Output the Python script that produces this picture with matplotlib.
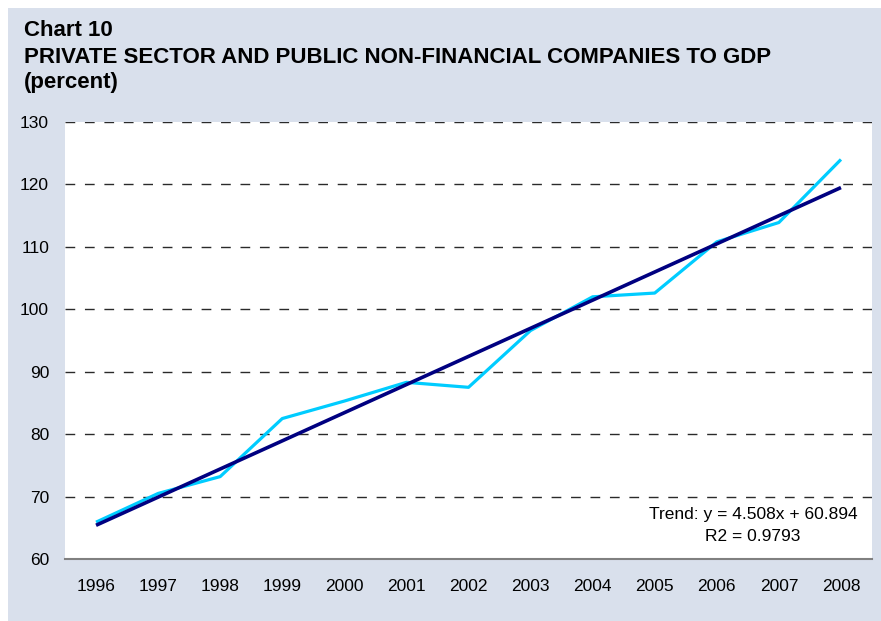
import matplotlib
matplotlib.use("Agg")
import matplotlib.pyplot as plt
from matplotlib.patches import Rectangle
import numpy as np

plt.rcParams['font.family'] = ['Liberation Sans', 'DejaVu Sans']

years = ['1996', '1997', '1998', '1999', '2000', '2001', '2002',
         '2003', '2004', '2005', '2006', '2007', '2008']
values = [65.9, 70.5, 73.2, 82.5, 85.3, 88.3, 87.5,
          96.6, 102.0, 102.6, 110.8, 113.9, 124.0]
trend_slope = 4.508
trend_intercept = 60.894
trend_r2 = 0.9793
yticks = [60, 70, 80, 90, 100, 110, 120, 130]

title_lines = ['Chart 10',
               'PRIVATE SECTOR AND PUBLIC NON-FINANCIAL COMPANIES TO GDP',
               '(percent)']

W, H = 881, 621
fig = plt.figure(figsize=(W / 100, H / 100), dpi=100)
fig.patch.set_facecolor('white')
bg = '#D9E0EC'
fig.patches.append(Rectangle((8 / W, 0), 1 - 8 / W, (H - 8) / H,
                             transform=fig.transFigure, facecolor=bg,
                             edgecolor='none', zorder=-5))

ax = fig.add_axes([65 / W, (H - 559) / H, (872 - 65) / W, (559 - 122) / H])
ax.set_zorder(1)
ax.set_facecolor('white')

x = np.arange(len(years))
trend = trend_intercept + trend_slope * (x + 1)

ax.plot(x, values, color='#00CCFF', lw=2.3, zorder=3, solid_capstyle='butt')
ax.plot(x, trend, color='#000080', lw=2.6, zorder=4, solid_capstyle='butt')

ax.set_xlim(-0.5, len(years) - 0.5)
ax.set_ylim(60, 130)
ax.set_yticks(yticks)
ax.set_xticks(x)
ax.set_xticklabels(years)
ax.tick_params(axis='both', length=0, labelsize=12.5, colors='black')
ax.tick_params(axis='y', pad=11.5)
ax.tick_params(axis='x', pad=14.5)

for v in yticks[1:]:
    ax.axhline(v, color='#2a2a2a', lw=1.0, ls=(0, (7, 7)), zorder=1)

for s in ['left', 'right', 'top']:
    ax.spines[s].set_visible(False)
ax.spines['bottom'].set_color('#808080')
ax.spines['bottom'].set_linewidth(1.5)

fig.text(753 / W, 1 - 519 / H, f'Trend: y = {trend_slope}x + {trend_intercept}',
         ha='center', va='baseline', fontsize=12.5, color='black', zorder=5)
fig.text(753 / W, 1 - 541 / H, f'R2 = {trend_r2}',
         ha='center', va='baseline', fontsize=12.5, color='black', zorder=5)

ys = [36, 63, 88]
for t, yb in zip(title_lines, ys):
    fig.text(24 / W, 1 - yb / H, t, ha='left', va='baseline',
             fontsize=16, fontweight='bold', color='black')

fig.savefig('out.png', dpi=100, facecolor=fig.get_facecolor())
